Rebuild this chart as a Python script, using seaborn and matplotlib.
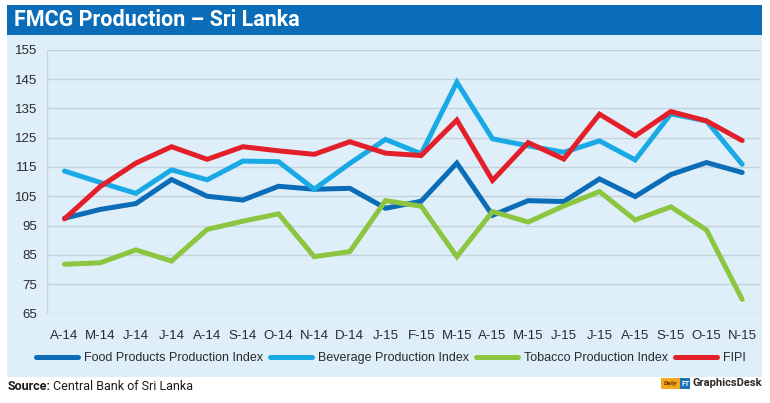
import matplotlib
matplotlib.use("Agg")
import matplotlib.pyplot as plt
import matplotlib.patches as mpatches
import seaborn as sns
import pandas as pd
import numpy as np

months = ["A-14", "M-14", "J-14", "J-14", "A-14", "S-14", "O-14", "N-14", "D-14", "J-15",
          "F-15", "M-15", "A-15", "M-15", "J-15", "J-15", "A-15", "S-15", "O-15", "N-15"]
food = [97.5, 100.5, 102.5, 110.7, 105.0, 103.7, 108.4, 107.4, 107.7, 100.9,
        103.3, 116.3, 98.5, 103.5, 103.2, 110.9, 104.9, 112.4, 116.5, 113.1]
beverage = [113.6, 109.7, 106.0, 114.0, 110.6, 117.0, 116.8, 107.4, 116.2, 124.4,
            119.5, 143.9, 124.6, 122.2, 120.0, 123.9, 117.4, 133.1, 130.7, 115.9]
tobacco = [81.8, 82.3, 86.7, 82.9, 93.7, 96.5, 99.0, 84.4, 86.1, 103.5,
           101.6, 84.4, 99.8, 96.2, 101.7, 106.6, 96.9, 101.4, 93.5, 69.8]
fipi = [97.3, 108.3, 116.3, 121.9, 117.6, 121.9, 120.5, 119.3, 123.6, 119.7,
        118.9, 131.0, 110.4, 123.3, 117.7, 133.0, 125.6, 133.9, 130.7, 124.0]
series_names = ["Food Products Production Index", "Beverage Production Index",
                "Tobacco Production Index", "FIPI"]
yticks = [65, 75, 85, 95, 105, 115, 125, 135, 145, 155]

colors = ["#0b6db7", "#19aae6", "#8cc53f", "#e3202a"]

rows = []
for name, vals in zip(series_names, [food, beverage, tobacco, fipi]):
    for i, v in enumerate(vals):
        rows.append({"idx": i, "value": v, "series": name})
df = pd.DataFrame(rows)

sns.set_theme(style="white")
plt.rcParams["font.family"] = ["Liberation Sans", "DejaVu Sans"]

fig = plt.figure(figsize=(7.7, 4.03), dpi=100)
W, H = 770, 403

def fx(px):
    return px / W

def fy(py):
    return 1 - py / H

# light blue panel
fig.patches.append(mpatches.Rectangle((fx(7), fy(377)), fx(762 - 7), (377 - 5) / H,
                                      transform=fig.transFigure, facecolor="#deeffa",
                                      edgecolor="none", zorder=-2))
# title bar
fig.patches.append(mpatches.Rectangle((fx(7), fy(35)), fx(762 - 7), 30 / H,
                                      transform=fig.transFigure, facecolor="#0b6db7",
                                      edgecolor="none", zorder=-1))
narrow = dict(family=["Roboto", "DejaVu Sans"])
fig.text(fx(14), fy(20.5), "FMCG Production \u2013 Sri Lanka", color="white",
         fontsize=15.5, fontweight="bold", va="center", ha="left", **narrow)

ax = fig.add_axes([fx(46.7), fy(313.5), fx(760 - 46.7), (313.5 - 49.7) / H])
ax.set_facecolor("none")
ax.set_zorder(2)

sns.lineplot(data=df, x="idx", y="value", hue="series", palette=colors,
             hue_order=series_names, linewidth=3.6, ax=ax, legend=True,
             solid_joinstyle="miter", solid_capstyle="round")

ax.set_xlim(-0.5, 19.5)
ax.set_ylim(65, 155)
ax.set_yticks(yticks)
ax.set_yticklabels([str(t) for t in yticks], fontsize=9.5, color="#2a2a2a")
ax.set_xticks(range(len(months)))
ax.set_xticklabels(months, fontsize=9.5, color="#2a2a2a")
ax.set_xticks(np.arange(-0.5, 20, 1), minor=True)
ax.tick_params(axis="x", which="major", length=0, pad=12)
ax.tick_params(axis="x", which="minor", length=4, color="#c5d2dc", width=1, direction="out")
ax.tick_params(axis="y", length=0, pad=7)
ax.yaxis.grid(True, color="#c5d2dc", linewidth=1)
ax.set_axisbelow(True)
for s in ["top", "right", "left", "bottom"]:
    ax.spines[s].set_visible(False)
ax.axvline(-0.5, color="#c5d2dc", linewidth=1, zorder=0)
ax.set_xlabel("")
ax.set_ylabel("")

handles, labels = ax.get_legend_handles_labels()
ax.get_legend().remove()
leg = fig.legend(handles, labels, loc="center", bbox_to_anchor=(fx(391), fy(358)), ncol=4,
                 frameon=False, fontsize=9, handlelength=3.3, handletextpad=0.5,
                 columnspacing=0.6, labelcolor="#2a2a2a")

t1 = fig.text(fx(8), fy(387), "Source:", fontsize=9, fontweight="bold", color="#1a1a1a",
              va="center", ha="left", **narrow)
fig.canvas.draw()
bb = t1.get_window_extent()
fig.text(bb.x1 / W + 0.003, fy(387), "Central Bank of Sri Lanka", fontsize=9,
         color="#1a1a1a", va="center", ha="left", **narrow)

# logo-ish text
gd = fig.text(fx(762), fy(383.5), "GraphicsDesk", fontsize=8, color="#2a2a2a",
              fontweight="bold", ha="right", va="center", **narrow)
fig.canvas.draw()
gx0 = gd.get_window_extent().x0
fig.patches.append(mpatches.Rectangle(((gx0 - 2 - 10) / W, fy(389)), 10 / W, 11 / H,
                                      transform=fig.transFigure, facecolor="#1a74b8",
                                      edgecolor="none"))
fig.text((gx0 - 7) / W, fy(383.5), "FT", fontsize=5, color="white", fontweight="bold",
         ha="center", va="center", **narrow)
fig.patches.append(mpatches.Rectangle(((gx0 - 12 - 19) / W, fy(389)), 19 / W, 11 / H,
                                      transform=fig.transFigure, facecolor="#f0a81c",
                                      edgecolor="none"))
fig.text((gx0 - 12 - 9.5) / W, fy(383.5), "Daily", fontsize=4.5, color="#7a2a00",
         style="italic", fontweight="bold", ha="center", va="center", **narrow)

fig.savefig("out.png", dpi=100)
